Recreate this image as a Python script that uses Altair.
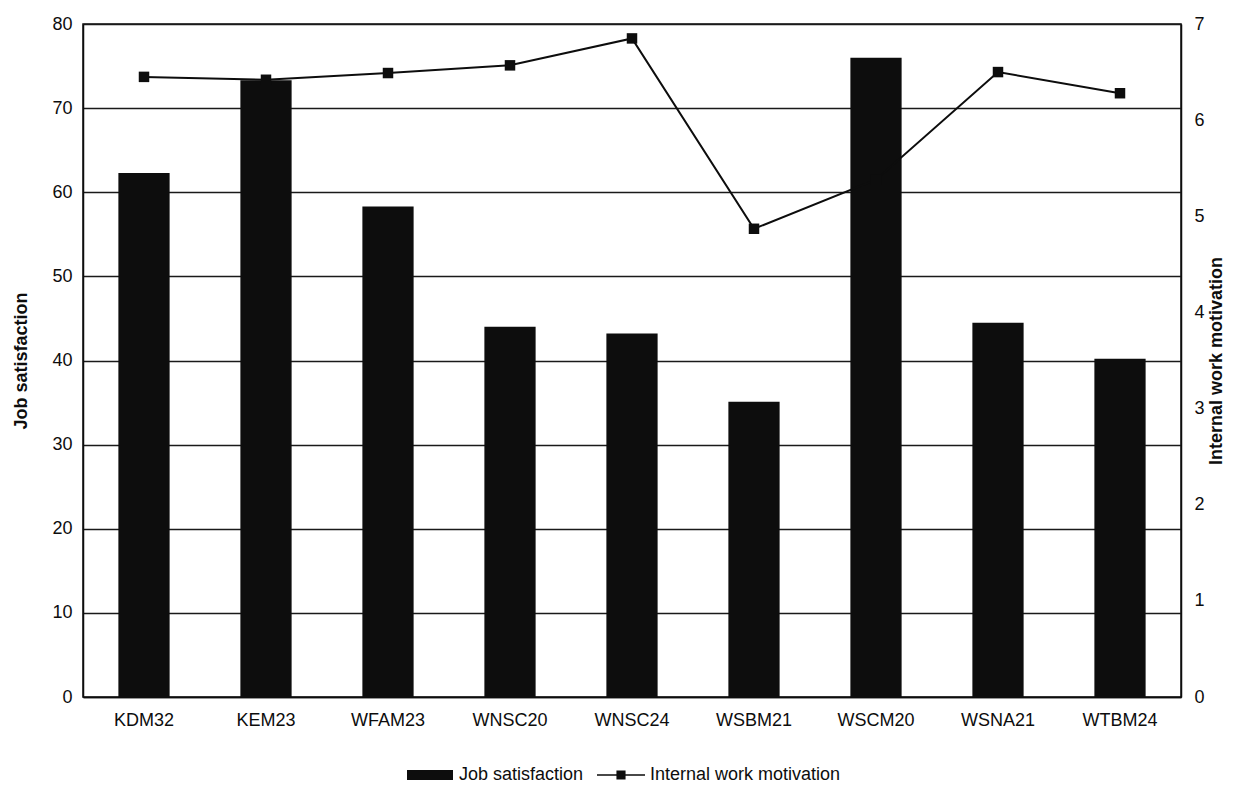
import altair as alt
import pandas as pd

categories = ["KDM32", "KEM23", "WFAM23", "WNSC20", "WNSC24",
              "WSBM21", "WSCM20", "WSNA21", "WTBM24"]
job_satisfaction = [62.3, 73.3, 58.3, 44.0, 43.2, 35.1, 76.0, 44.5, 40.2]
internal_motivation = [6.45, 6.42, 6.49, 6.57, 6.85, 4.87, 5.38, 6.50, 6.28]
left_ticks = [0, 10, 20, 30, 40, 50, 60, 70, 80]
right_ticks = [0, 1, 2, 3, 4, 5, 6, 7]
series_names = ["Job satisfaction", "Internal work motivation"]

df = pd.DataFrame({
    "cat": categories,
    "js": job_satisfaction,
    "iwm": internal_motivation,
    "s1": series_names[0],
    "s2": series_names[1],
})

INK = "#0d0d0d"
FONT = "Liberation Sans"

rect_path = "M-1,-0.22L1,-0.22L1,0.22L-1,0.22Z"
line_sq_path = ("M-1,-0.03L-0.19,-0.03L-0.19,-0.19L0.19,-0.19L0.19,-0.03L1,-0.03"
                "L1,0.03L0.19,0.03L0.19,0.19L-0.19,0.19L-0.19,0.03L-1,0.03Z")

x_enc = alt.X(
    "cat:N", sort=categories,
    scale=alt.Scale(paddingInner=0.58, paddingOuter=0.29),
    axis=alt.Axis(title=None, labelAngle=0, ticks=False, labelPadding=14,
                  grid=False, domainColor=INK, domainWidth=1.5),
)

base = alt.Chart(df)

bars = base.mark_bar().encode(
    x=x_enc,
    y=alt.Y("js:Q", scale=alt.Scale(domain=[0, 80], nice=False),
            axis=alt.Axis(values=left_ticks, title="Job satisfaction", grid=True,
                          gridColor="#1a1a1a", gridWidth=1.4, ticks=False,
                          labelPadding=11, titlePadding=21, domainColor=INK,
                          domainWidth=1.5)),
    color=alt.Color("s1:N",
                    scale=alt.Scale(domain=[series_names[0]], range=[INK]),
                    legend=alt.Legend(orient="none", legendX=324, legendY=728,
                                      title=None, symbolType=rect_path,
                                      symbolSize=2116, symbolStrokeWidth=0,
                                      labelLimit=0, labelOffset=6, padding=0)),
)

y_right = alt.Y("iwm:Q", scale=alt.Scale(domain=[0, 7], nice=False),
                axis=alt.Axis(orient="right", values=right_ticks,
                              title="Internal work motivation", grid=False,
                              ticks=False, labelPadding=13, titlePadding=3,
                              titleAngle=270, titleBaseline="top",
                              domainColor=INK, domainWidth=1.5))

line = base.mark_line(color=INK, strokeWidth=2).encode(x=x_enc, y=y_right)

points = base.mark_point(shape="square", filled=True, size=110, opacity=1).encode(
    x=x_enc, y=y_right,
    fill=alt.Fill("s2:N",
                  scale=alt.Scale(domain=[series_names[1]], range=[INK]),
                  legend=alt.Legend(orient="none", legendX=514, legendY=727,
                                    title=None, symbolType=line_sq_path,
                                    symbolSize=2304, symbolStrokeWidth=0,
                                    labelLimit=0, labelOffset=5, padding=0)),
)

chart = alt.layer(bars, alt.layer(line, points)).resolve_scale(
    y="independent", color="independent", fill="independent"
).properties(
    width=1098, height=673,
    autosize=alt.AutoSizeParams(type="none"),
    padding={"left": 75, "top": 16, "right": 44, "bottom": 88},
).configure_axis(
    labelFont=FONT, titleFont=FONT, labelFontSize=18, titleFontSize=18,
    titleFontWeight="bold", labelColor=INK, titleColor=INK,
).configure_legend(
    labelFont=FONT, labelColor=INK, labelFontSize=18,
).configure_view(
    stroke=INK, strokeWidth=1.5,
)

chart.save("out.html", embed_options={"renderer": "svg", "actions": False})
